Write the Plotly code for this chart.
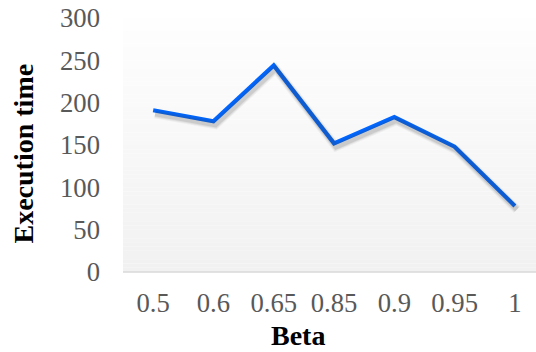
import plotly.graph_objects as go

# Execution time measured for each Beta setting
beta = ["0.5", "0.6", "0.65", "0.85", "0.9", "0.95", "1"]
exec_time = [191, 178, 244, 152, 183, 148, 78]
y_ticks = [0, 50, 100, 150, 200, 250, 300]

W, H = 536, 352
M_L, M_R, M_T, M_B = 123, 0, 18, 80
X_RANGE = [-0.5, 6.35]
Y_RANGE = [0, 300]

LABEL_FONT = dict(family="Liberation Serif, Times New Roman, serif", size=26.7, color="#595959")
TITLE_FONT = dict(family="Liberation Serif, Times New Roman, serif", size=28, color="#000000")

fig = go.Figure()

# soft drop shadow: same series on an overlaid axis pair shifted a few pixels
plot_w = W - M_L - M_R
plot_h = H - M_T - M_B
dx_px, dy_px = 2.0, 3.5
x_shift = dx_px * (X_RANGE[1] - X_RANGE[0]) / plot_w
y_shift = dy_px * (Y_RANGE[1] - Y_RANGE[0]) / plot_h
for w, a in [(9, 0.06), (7, 0.08), (5, 0.12)]:
    fig.add_trace(go.Scatter(
        x=beta, y=exec_time, mode="lines", xaxis="x2", yaxis="y2",
        line=dict(color=f"rgba(60,60,60,{a})", width=w),
        hoverinfo="skip", showlegend=False,
    ))

fig.add_trace(go.Scatter(
    x=beta, y=exec_time, mode="lines",
    line=dict(color="#0066FF", width=4.2),
    showlegend=False,
))

# vertical light-grey gradient behind the series
n = 60
top, bot = (254, 254, 254), (241, 241, 241)
shapes = []
for i in range(n):
    t = i / (n - 1)
    c = tuple(round(top[k] + (bot[k] - top[k]) * t) for k in range(3))
    shapes.append(dict(
        type="rect", xref="x domain", yref="y domain", layer="below",
        x0=0, x1=1, y1=1 - i / n, y0=1 - (i + 1) / n,
        fillcolor=f"rgb{c}", line=dict(width=0),
    ))
# category axis baseline
shapes.append(dict(
    type="line", xref="x domain", yref="y domain", layer="above",
    x0=0, x1=1, y0=0, y1=0, line=dict(color="#d9d9d9", width=1.5),
))

fig.update_layout(
    width=W, height=H,
    margin=dict(l=M_L, r=M_R, t=M_T, b=M_B),
    paper_bgcolor="white", plot_bgcolor="white",
    shapes=shapes,
    xaxis=dict(
        type="category", range=X_RANGE, showgrid=False, zeroline=False,
        showline=False, ticks="", tickfont=LABEL_FONT, ticklabelstandoff=12,
    ),
    yaxis=dict(
        range=Y_RANGE, tickvals=y_ticks, showgrid=False, zeroline=False,
        showline=False, ticks="", tickfont=LABEL_FONT, ticklabelstandoff=22,
    ),
    xaxis2=dict(
        type="category", overlaying="x", matches=None,
        range=[X_RANGE[0] - x_shift, X_RANGE[1] - x_shift],
        visible=False,
    ),
    yaxis2=dict(
        overlaying="y", range=[Y_RANGE[0] + y_shift, Y_RANGE[1] + y_shift],
        visible=False,
    ),
    annotations=[
        dict(text="<b>Beta</b>", xref="paper", yref="paper",
             x=(298 - M_L) / plot_w, y=-(335 - (H - M_B)) / plot_h,
             xanchor="center", yanchor="middle", showarrow=False, font=TITLE_FONT),
        dict(text="<b>Execution time</b>", xref="paper", yref="paper",
             x=-(M_L - 23) / plot_w, y=(H - M_B - 153.5) / plot_h,
             xanchor="center", yanchor="middle", textangle=-90,
             showarrow=False, font=TITLE_FONT),
    ],
)

fig.write_html("out.html")
